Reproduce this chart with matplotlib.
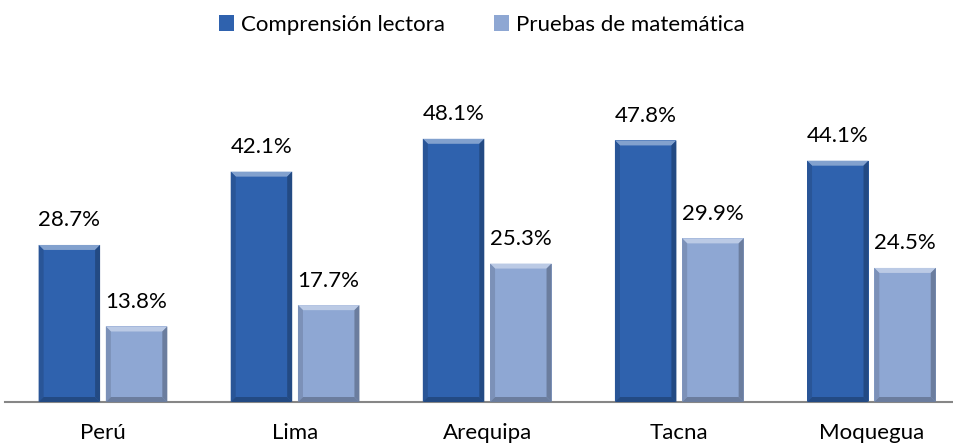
import numpy as np
import matplotlib
matplotlib.use("Agg")
import matplotlib.pyplot as plt
from matplotlib.patches import Polygon

plt.rcParams['font.family'] = ['Lato', 'DejaVu Sans']

categories = ["Perú", "Lima", "Arequipa", "Tacna", "Moquegua"]
lectora = [28.7, 42.1, 48.1, 47.8, 44.1]
matematica = [13.8, 17.7, 25.3, 29.9, 24.5]
series_names = ["Comprensión lectora", "Pruebas de matemática"]

dark = "#2f62ae"
light = "#8ea7d3"


def add_bevel(ax, bar, color, px=5):
    """draw a simple bevel over a bar: light top, darker sides/bottom"""
    x0, y0 = bar.get_x(), bar.get_y()
    w, h = bar.get_width(), bar.get_height()
    # convert pixel bevel into data units
    inv = ax.transData.inverted()
    p0 = inv.transform((0, 0))
    p1 = inv.transform((px, px))
    bx, by = p1[0] - p0[0], p1[1] - p0[1]
    x1, y1 = x0 + w, y0 + h
    base = np.array(matplotlib.colors.to_rgb(color))
    hi = base + (1 - base) * 0.4
    sh = base * 0.75
    sd = base * 0.87
    faces = [
        ([(x0, y1), (x1, y1), (x1 - bx, y1 - by), (x0 + bx, y1 - by)], hi),
        ([(x0, y0), (x0, y1), (x0 + bx, y1 - by), (x0 + bx, y0 + by)], sd),
        ([(x1, y0), (x1, y1), (x1 - bx, y1 - by), (x1 - bx, y0 + by)], sh),
        ([(x0, y0), (x1, y0), (x1 - bx, y0 + by), (x0 + bx, y0 + by)], sh),
    ]
    for pts, c in faces:
        ax.add_patch(Polygon(pts, closed=True, facecolor=c, edgecolor='none', zorder=3))


fig = plt.figure(figsize=(9.54, 4.48), dpi=100)
ax = fig.add_axes([5 / 954, 46 / 448, 949 / 954, 342 / 448])

x = np.arange(len(categories))
bw = 0.32
off = 0.175
b1 = ax.bar(x - off, lectora, bw, color=dark, zorder=2, label=series_names[0])
b2 = ax.bar(x + off, matematica, bw, color=light, zorder=2, label=series_names[1])

ax.set_xlim(-0.51, 4.43)
ax.set_ylim(0, 62.5)

for bars, c in ((b1, dark), (b2, light)):
    for b in bars:
        add_bevel(ax, b, c)
        ax.annotate(f"{b.get_height():.1f}%", (b.get_x() + b.get_width() / 2, b.get_height()),
                    xytext=(0, 10.5), textcoords="offset points", ha="center", va="bottom",
                    fontsize=16, color="#000000")

for s in ["top", "right", "left"]:
    ax.spines[s].set_visible(False)
ax.spines["bottom"].set_color("#868686")
ax.spines["bottom"].set_linewidth(1.5)
ax.set_yticks([])
ax.set_xticks(x)
ax.set_xticklabels(categories, fontsize=16)
ax.tick_params(axis="x", length=0, pad=15)

fig.legend(handles=[b1, b2], labels=series_names, loc="upper center",
           bbox_to_anchor=(0.505, 1.012), ncol=2, frameon=False, fontsize=16,
           handlelength=0.7, handleheight=0.7, handletextpad=0.3, columnspacing=2.2)

fig.savefig("out.png", dpi=100)
